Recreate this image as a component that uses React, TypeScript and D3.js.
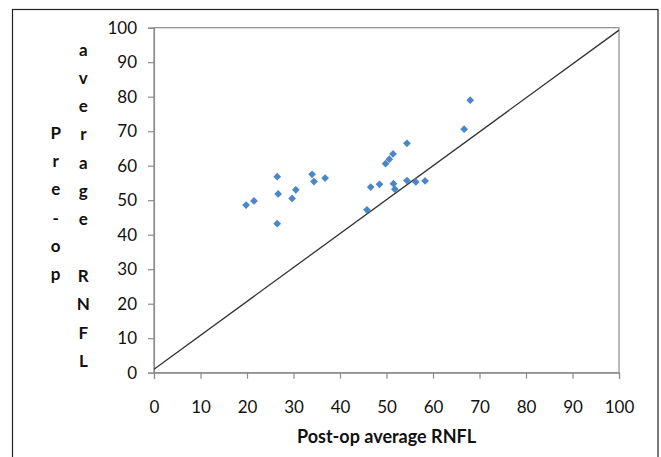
import React, { useRef, useEffect } from 'react';
import * as d3 from 'd3';

// post-op average RNFL (x) vs pre-op average RNFL (y)
const postOp = [19.8, 21.5, 26.5, 26.7, 26.5, 30.5, 29.7, 34.0, 34.4, 36.8,
  54.4, 51.4, 50.6, 49.8, 46.6, 48.5, 51.5, 51.8, 54.4, 56.3, 58.3, 45.8, 68.0, 66.7];
const preOp = [48.6, 49.8, 56.8, 51.8, 43.2, 53.0, 50.5, 57.5, 55.4, 56.4,
  66.5, 63.4, 61.9, 60.6, 53.8, 54.6, 54.8, 53.2, 55.7, 55.3, 55.6, 47.2, 79.0, 70.6];
// reference line ends
const lineX = [0, 100];
const lineY = [1, 99.3];
const ticks = [0, 10, 20, 30, 40, 50, 60, 70, 80, 90, 100];
const yTitleCol1 = ['P', 'r', 'e', '-', 'o', 'p'];
const yTitleCol2 = ['a', 'v', 'e', 'r', 'a', 'g', 'e', '', 'R', 'N', 'F', 'L'];

const W = 661;
const H = 457;

const App = () => {
  const svgRef = useRef<SVGSVGElement>(null);

  useEffect(() => {
    const svg = d3.select(svgRef.current);
    svg.selectAll('*').remove();

    const font = 'Lato, "Open Sans", sans-serif';
    const x = d3.scaleLinear().domain([0, 100]).range([154, 619]);
    const y = d3.scaleLinear().domain([0, 100]).range([372.7, 27.7]);

    // outer frame
    svg.append('rect')
      .attr('x', 12.5).attr('y', 9.5)
      .attr('width', 645.5).attr('height', 470)
      .attr('fill', '#fff').attr('stroke', '#222').attr('stroke-width', 1.2);

    // plot frame
    svg.append('rect')
      .attr('x', x(0)).attr('y', y(100))
      .attr('width', x(100) - x(0)).attr('height', y(0) - y(100))
      .attr('fill', 'none').attr('stroke', '#8c8c8c').attr('stroke-width', 1.2);

    const xAxis = svg.append('g')
      .attr('transform', `translate(0,${y(0)})`)
      .call(d3.axisBottom(x).tickValues(ticks).tickSize(6).tickPadding(22));
    const yAxis = svg.append('g')
      .attr('transform', `translate(${x(0)},0)`)
      .call(d3.axisLeft(y).tickValues(ticks).tickSize(6).tickPadding(11));

    [xAxis, yAxis].forEach(g => {
      g.select('.domain').attr('stroke', '#8c8c8c').attr('stroke-width', 1.2);
      g.selectAll('.tick line').attr('stroke', '#8c8c8c').attr('stroke-width', 1.2);
      g.selectAll('.tick text')
        .attr('fill', '#111')
        .style('font-family', font)
        .style('font-size', '17px');
    });

    // reference line
    svg.append('line')
      .attr('x1', x(lineX[0])).attr('y1', y(lineY[0]))
      .attr('x2', x(lineX[1])).attr('y2', y(lineY[1]))
      .attr('stroke', '#333').attr('stroke-width', 1.3);

    // points
    const sym = d3.symbol().type(d3.symbolSquare).size(30);
    svg.append('g').selectAll('path')
      .data(postOp.map((v, i) => [v, preOp[i]]))
      .enter()
      .append('path')
        .attr('d', sym)
        .attr('transform', d => `translate(${x(d[0])},${y(d[1])}) rotate(45)`)
        .attr('fill', '#4a86c8');

    // axis titles
    svg.append('text')
      .attr('x', (x(0) + x(100)) / 2).attr('y', 443)
      .attr('text-anchor', 'middle')
      .style('font-family', font).style('font-size', '18px').style('font-weight', 'bold')
      .attr('fill', '#111')
      .text('Post-op average RNFL');

    const row = 28.3;
    yTitleCol1.forEach((c, i) => {
      svg.append('text')
        .attr('x', 55.7).attr('y', 133.3 + i * row + 5.5)
        .attr('text-anchor', 'middle')
        .style('font-family', font).style('font-size', '17px').style('font-weight', 'bold')
        .attr('fill', '#111')
        .text(c);
    });
    yTitleCol2.forEach((c, i) => {
      svg.append('text')
        .attr('x', 83.3).attr('y', 50 + i * row + 5.5)
        .attr('text-anchor', 'middle')
        .style('font-family', font).style('font-size', '17px').style('font-weight', 'bold')
        .attr('fill', '#111')
        .text(c);
    });
  }, []);

  return (
    <svg ref={svgRef} width={W} height={H}
      style={{ position: 'absolute', left: 0, top: 0, background: '#fff' }} />
  );
};

export default App;
